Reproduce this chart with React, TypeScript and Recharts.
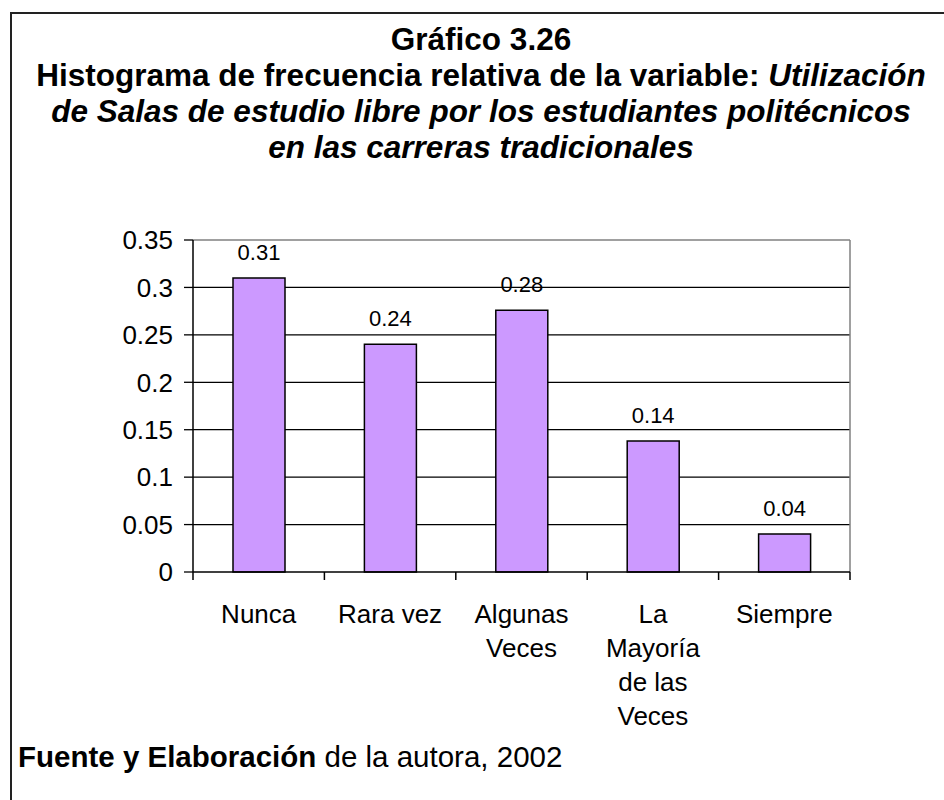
import React from "react";
import {
  BarChart,
  Bar,
  XAxis,
  YAxis,
  CartesianGrid,
  LabelList,
} from "recharts";

const categories = [
  "Nunca",
  "Rara vez",
  "Algunas\nVeces",
  "La\nMayoría\nde las\nVeces",
  "Siempre",
];
const frecuencias = [0.31, 0.24, 0.276, 0.138, 0.04];
const yTicks = [0, 0.05, 0.1, 0.15, 0.2, 0.25, 0.3, 0.35];
const yTickLabels = ["0", "0.05", "0.1", "0.15", "0.2", "0.25", "0.3", "0.35"];
const gridValues = [0.05, 0.1, 0.15, 0.2, 0.25, 0.3];

const data = categories.map((c, i) => ({ cat: c, value: frecuencias[i] }));

const FONT = '"Liberation Sans", Arial, "Helvetica", sans-serif';
const CHART_W = 944;
const CHART_H = 800;
const MARGIN = { top: 240, right: 94, bottom: 78, left: 113 };
const Y_AXIS_W = 80;
const X_AXIS_H = 150;
const BAND =
  (CHART_W - MARGIN.left - MARGIN.right - Y_AXIS_W) / categories.length;

const XTick = (props: any) => {
  const { x, y, payload, index } = props;
  const half =
    payload && typeof payload.offset === "number" && payload.offset > 0
      ? payload.offset
      : BAND / 2;
  const lines = String(payload.value).split("\n");
  return (
    <g>
      <line x1={x - half} x2={x - half} y1={y} y2={y + 8} stroke="#000" strokeWidth={1.5} />
      {index === categories.length - 1 && (
        <line x1={x + half} x2={x + half} y1={y} y2={y + 8} stroke="#000" strokeWidth={1.5} />
      )}
      <text
        x={x}
        y={y + 51}
        textAnchor="middle"
        fontSize={26}
        fontFamily={FONT}
        fill="#000"
      >
        {lines.map((l, i) => (
          <tspan key={i} x={x} dy={i === 0 ? 0 : 34}>
            {l}
          </tspan>
        ))}
      </text>
    </g>
  );
};

const ValueLabel = (props: any) => {
  const { x, y, width, value } = props;
  return (
    <text
      x={x + width / 2}
      y={y - 18}
      textAnchor="middle"
      fontSize={22}
      fontFamily={FONT}
      fill="#000"
    >
      {Number(value).toFixed(2)}
    </text>
  );
};

export default function App() {
  return (
    <div
      style={{
        position: "absolute",
        left: 0,
        top: 0,
        width: CHART_W,
        height: CHART_H,
        background: "#fff",
        fontFamily: FONT,
        color: "#000",
        overflow: "hidden",
      }}
    >
      <div
        style={{
          position: "absolute",
          left: 10,
          top: 12,
          right: 0,
          bottom: 0,
          borderTop: "2px solid #222",
          borderLeft: "2px solid #222",
        }}
      />
      <div
        style={{
          position: "absolute",
          left: 18,
          width: 926,
          top: 21,
          textAlign: "center",
          fontSize: 31.5,
          lineHeight: "36px",
          fontWeight: "bold",
          whiteSpace: "nowrap",
        }}
      >
        <div>Gráfico 3.26</div>
        <div>
          Histograma de frecuencia relativa de la variable:{" "}
          <i>Utilización</i>
        </div>
        <div>
          <i>de Salas de estudio libre por los estudiantes politécnicos</i>
        </div>
        <div>
          <i>en las carreras tradicionales</i>
        </div>
      </div>

      <div style={{ position: "absolute", left: 0, top: 0 }}>
        <BarChart width={CHART_W} height={CHART_H} data={data} margin={MARGIN}>
          <CartesianGrid
            vertical={false}
            horizontalValues={gridValues}
            stroke="#000"
            strokeWidth={1.3}
          />
          <CartesianGrid
            stroke="#808080"
            strokeWidth={1.5}
            horizontalCoordinatesGenerator={({ offset }: any) => [offset.top]}
            verticalCoordinatesGenerator={({ offset }: any) => [
              offset.left + offset.width,
            ]}
          />
          <XAxis
            dataKey="cat"
            height={X_AXIS_H}
            interval={0}
            tickSize={0}
            tickMargin={0}
            tickLine={false}
            axisLine={{ stroke: "#000", strokeWidth: 1.5 }}
            tick={<XTick />}
          />
          <YAxis
            width={Y_AXIS_W}
            domain={[0, 0.35]}
            ticks={yTicks}
            interval={0}
            tickFormatter={(v: number) => yTickLabels[yTicks.indexOf(v)] ?? String(v)}
            tickSize={9}
            tickMargin={11}
            axisLine={{ stroke: "#000", strokeWidth: 1.5 }}
            tickLine={{ stroke: "#000", strokeWidth: 1.3 }}
            tick={{ fill: "#000", fontSize: 26, fontFamily: FONT }}
          />
          <Bar
            dataKey="value"
            fill="#CC99FF"
            stroke="#000"
            strokeWidth={1.5}
            barSize={52}
            isAnimationActive={false}
          >
            <LabelList dataKey="value" content={<ValueLabel />} />
          </Bar>
        </BarChart>
      </div>

      <div
        style={{
          position: "absolute",
          left: 18,
          top: 740,
          fontSize: 29.5,
          lineHeight: "34px",
          whiteSpace: "nowrap",
        }}
      >
        <b>Fuente y Elaboración</b> de la autora, 2002
      </div>
    </div>
  );
}
